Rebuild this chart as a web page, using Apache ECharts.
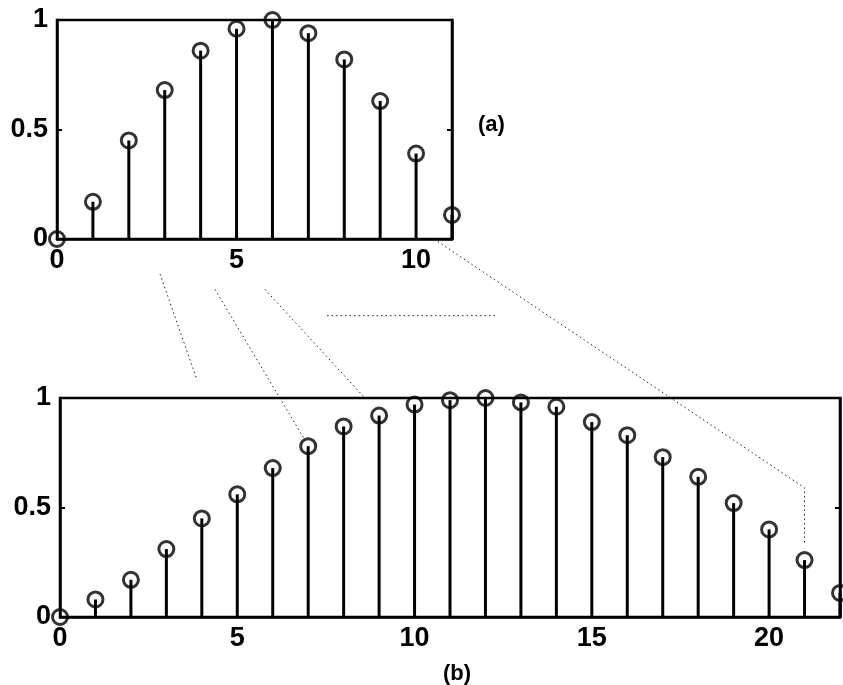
<!DOCTYPE html>
<html>
<head>
<meta charset="utf-8">
<script src="https://cdn.jsdelivr.net/npm/echarts@6/dist/echarts.min.js"></script>
<style>
  html, body { margin: 0; padding: 0; background: #fff; }
  #chart { width: 843px; height: 685px; }
</style>
</head>
<body>
<div id="chart"></div>
<script>
// Window (a): 12 samples
const nA = [0, 1, 2, 3, 4, 5, 6, 7, 8, 9, 10, 11];
const valuesA = [0, 0.17, 0.45, 0.68, 0.86, 0.96, 1.0, 0.94, 0.82, 0.63, 0.39, 0.11];

// Window (b): 23 samples
const nB = [0, 1, 2, 3, 4, 5, 6, 7, 8, 9, 10, 11, 12, 13, 14, 15, 16, 17, 18, 19, 20, 21, 22];
const valuesB = [0, 0.08, 0.17, 0.31, 0.45, 0.56, 0.68, 0.78, 0.87, 0.92, 0.97, 0.99, 1.0,
                 0.98, 0.96, 0.89, 0.83, 0.73, 0.64, 0.52, 0.40, 0.26, 0.11];

// Axis ticks
const xTicksA = [0, 5, 10];
const xTicksB = [0, 5, 10, 15, 20];
const yTicks = [0, 0.5, 1];
const panelLabels = ['(a)', '(b)'];

// Dotted guide lines between the two panels: [gridIndex, x, y] per vertex
const guides = [
  [[0, 2.87, -0.16], [1, 3.87, 1.08]],
  [[0, 4.4, -0.23], [1, 6.9, 0.81]],
  [[0, 5.79, -0.23], [1, 8.6, 1.0]],
  [[0, 7.52, -0.35], [0, 12.26, -0.35]],
  [[0, 10.5, 0], [1, 21, 0.59], [1, 21, 0.34]]
];

const FONT = '"Liberation Sans", Arial, sans-serif';
const INK = '#000';

const chart = echarts.init(document.getElementById('chart'), null, { renderer: 'canvas' });

function xAxisFor(gridIndex, max, ticks) {
  return {
    type: 'value', gridIndex, min: 0, max, interval: 5,
    axisLine: { show: true, onZero: false, lineStyle: { color: INK, width: 2.5 } },
    axisTick: { show: false },
    splitLine: { show: false },
    axisLabel: {
      customValues: ticks, margin: 8, color: INK,
      fontFamily: FONT, fontWeight: 'bold', fontSize: 27
    }
  };
}
function yAxisFor(gridIndex, position) {
  const left = position === 'left';
  return {
    type: 'value', gridIndex, position, min: 0, max: 1, interval: 0.5,
    axisLine: { show: true, lineStyle: { color: INK, width: 2.5 } },
    axisTick: { show: true, inside: true, length: 5, customValues: yTicks, lineStyle: { color: INK, width: 2 } },
    splitLine: { show: false },
    axisLabel: {
      show: left, customValues: yTicks, margin: 9, color: INK,
      fontFamily: FONT, fontWeight: 'bold', fontSize: 27
    }
  };
}
function stems(xi, yi, n, v) {
  return {
    type: 'bar', xAxisIndex: xi, yAxisIndex: yi, barWidth: 3,
    itemStyle: { color: INK }, silent: true, z: 2,
    data: n.map((x, i) => [x, v[i]])
  };
}
function heads(xi, yi, n, v) {
  return {
    type: 'scatter', xAxisIndex: xi, yAxisIndex: yi, clip: false,
    symbol: 'circle', symbolSize: 15, silent: true, z: 3,
    itemStyle: { color: 'rgba(255,255,255,0)', borderColor: INK, borderWidth: 3 },
    data: n.map((x, i) => [x, v[i]])
  };
}

chart.setOption({
  backgroundColor: '#fff',
  animation: false,
  grid: [
    { left: 57, top: 20, width: 395, height: 219, show: true, borderColor: INK, borderWidth: 2.5, backgroundColor: 'transparent' },
    { left: 60, top: 398, width: 780, height: 219, show: true, borderColor: INK, borderWidth: 2.5, backgroundColor: 'transparent' }
  ],
  xAxis: [xAxisFor(0, 11, xTicksA), xAxisFor(1, 22, xTicksB)],
  yAxis: [yAxisFor(0, 'left'), yAxisFor(0, 'right'), yAxisFor(1, 'left'), yAxisFor(1, 'right')],
  series: [
    stems(0, 0, nA, valuesA), heads(0, 0, nA, valuesA),
    stems(1, 2, nB, valuesB), heads(1, 2, nB, valuesB)
  ]
});

// Panel captions and dotted guides, positioned from the axes
const capA = chart.convertToPixel({ gridIndex: 0 }, [11, 0.5]);
const capB = chart.convertToPixel({ gridIndex: 1 }, [11, 0]);
const guideShapes = guides.map(pts => ({
  type: 'polyline', silent: true, z: 1,
  shape: { points: pts.map(p => chart.convertToPixel({ gridIndex: p[0] }, [p[1], p[2]])) },
  style: { stroke: '#222', lineWidth: 1, lineDash: [1.5, 3], fill: null }
}));

chart.setOption({
  graphic: [
    { type: 'text', x: capA[0] + 26, y: capA[1] - 5, style: {
        text: panelLabels[0], fill: INK, font: 'bold 22px ' + FONT, textVerticalAlign: 'middle' } },
    { type: 'text', x: capB[0] + 7, y: capB[1] + 57, style: {
        text: panelLabels[1], fill: INK, font: 'bold 22px ' + FONT, textAlign: 'center', textVerticalAlign: 'middle' } }
  ].concat(guideShapes)
});
</script>
</body>
</html>
